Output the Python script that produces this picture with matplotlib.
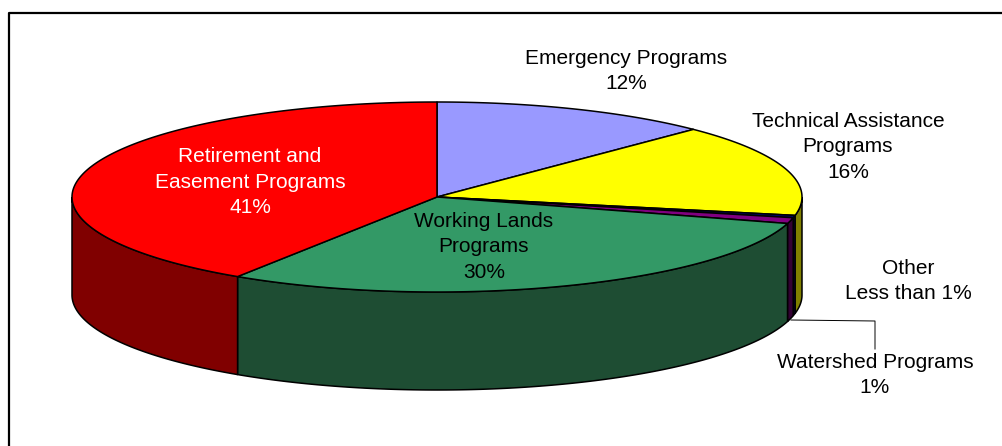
import matplotlib
matplotlib.use('Agg')
import matplotlib.pyplot as plt
import numpy as np

plt.rcParams['font.family'] = ['Liberation Sans', 'DejaVu Sans']

# Share of spending by program group, clockwise from 12 o'clock
programs = ['Emergency', 'Technical Assistance', 'Other', 'Watershed', 'Working Lands', 'Retirement']
shares = [12.4, 15.7, 0.4, 1.0, 29.7, 40.8]
top_colors = ['#9999FF', '#FFFF00', '#000080', '#800080', '#339966', '#FF0000']
side_colors = ['#4C4C80', '#808000', '#000040', '#330033', '#1E4D33', '#800000']

W, H = 1002, 446
fig = plt.figure(figsize=(W / 100, H / 100), dpi=100)
ax = fig.add_axes([0, 0, 1, 1])
ax.set_xlim(0, W)
ax.set_ylim(H, 0)
ax.axis('off')

# chart frame
ax.plot([9, 9, W + 5], [H + 5, 13, 13], color='black', lw=1.6, clip_on=True)

cx, cy, rx, ry, depth = 437, 197, 365, 95, 98

edges = np.cumsum([0] + shares) / 100 * 2 * np.pi


def rim(a, b):
    t = np.linspace(a, b, max(int((b - a) * 120), 2))
    return cx + rx * np.sin(t), cy - ry * np.cos(t)


# outer wall, only the part facing front (pi/2 .. 3pi/2 clockwise from top)
for i in range(len(shares)):
    a = max(edges[i], np.pi / 2)
    b = min(edges[i + 1], 3 * np.pi / 2)
    if b <= a:
        continue
    x, y = rim(a, b)
    ax.fill(np.r_[x, x[::-1]], np.r_[y, y[::-1] + depth], facecolor=side_colors[i],
            edgecolor='black', lw=1.1, zorder=2)

# top faces
for i in range(len(shares)):
    x, y = rim(edges[i], edges[i + 1])
    ax.fill(np.r_[cx, x], np.r_[cy, y], facecolor=top_colors[i], edgecolor='black',
            lw=1.1, zorder=3, joinstyle='round')

# leader line for the small Watershed slice
ax.plot([791, 875, 875], [320, 321, 349], color='black', lw=0.7, zorder=4)

labels = [
    (626, 71, 'Emergency Programs\n12%', 'black'),
    (848, 147, 'Technical Assistance\nPrograms\n16%', 'black'),
    (908, 281, 'Other\nLess than 1%', 'black'),
    (875, 375, 'Watershed Programs\n1%', 'black'),
    (484, 247, 'Working Lands\nPrograms\n30%', 'black'),
    (250, 182, 'Retirement and\nEasement Programs\n41%', 'white'),
]
for x, y, s, c in labels:
    ax.text(x, y, s, ha='center', va='center', fontsize=15, color=c,
            linespacing=1.46, zorder=5)

fig.savefig('out.png', dpi=100, facecolor='white')
